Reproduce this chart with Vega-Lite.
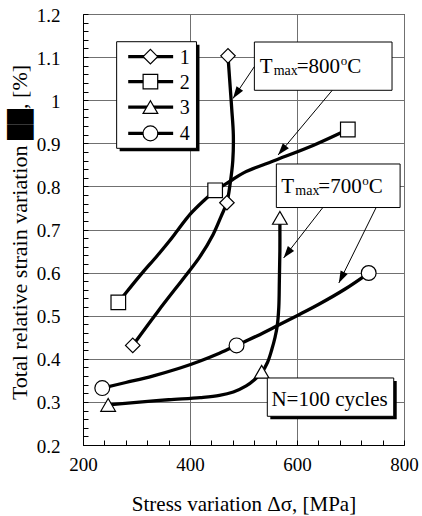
{
  "$schema": "https://vega.github.io/schema/vega-lite/v6.json",
  "width": 321,
  "height": 431,
  "autosize": {"type": "none"},
  "padding": {"left": 83, "top": 14, "right": 18, "bottom": 71},
  "background": "white",
  "config": {
    "font": "Liberation Serif",
    "view": {"stroke": "black", "strokeWidth": 1},
    "axis": {
      "domainColor": "black",
      "tickColor": "black",
      "tickWidth": 1,
      "labelColor": "black",
      "titleColor": "black",
      "gridColor": "#707070",
      "gridWidth": 1,
      "titleFontWeight": "normal",
      "labelFont": "Liberation Serif",
      "titleFont": "Liberation Serif",
      "labelFontSize": 19,
      "titleFontSize": 21,
      "labelOverlap": false,
      "labelFlush": false
    }
  },
  "datasets": {
    "curves": [
      {"s": "1", "i": 0, "x": 293, "y": 0.431},
      {"s": "1", "i": 1, "x": 340, "y": 0.51},
      {"s": "1", "i": 2, "x": 395, "y": 0.598},
      {"s": "1", "i": 3, "x": 418, "y": 0.636},
      {"s": "1", "i": 4, "x": 443, "y": 0.688},
      {"s": "1", "i": 5, "x": 458, "y": 0.73},
      {"s": "1", "i": 6, "x": 469, "y": 0.763},
      {"s": "1", "i": 7, "x": 475, "y": 0.806},
      {"s": "1", "i": 8, "x": 480, "y": 0.86},
      {"s": "1", "i": 9, "x": 481, "y": 0.92},
      {"s": "1", "i": 10, "x": 478, "y": 0.98},
      {"s": "1", "i": 11, "x": 474, "y": 1.05},
      {"s": "1", "i": 12, "x": 471, "y": 1.103},
      {"s": "2", "i": 0, "x": 266, "y": 0.531},
      {"s": "2", "i": 1, "x": 290, "y": 0.568},
      {"s": "2", "i": 2, "x": 312, "y": 0.601},
      {"s": "2", "i": 3, "x": 338, "y": 0.638},
      {"s": "2", "i": 4, "x": 360, "y": 0.671},
      {"s": "2", "i": 5, "x": 378, "y": 0.7},
      {"s": "2", "i": 6, "x": 400, "y": 0.735},
      {"s": "2", "i": 7, "x": 425, "y": 0.766},
      {"s": "2", "i": 8, "x": 447, "y": 0.79},
      {"s": "2", "i": 9, "x": 475, "y": 0.812},
      {"s": "2", "i": 10, "x": 501, "y": 0.832},
      {"s": "2", "i": 11, "x": 562, "y": 0.862},
      {"s": "2", "i": 12, "x": 630, "y": 0.895},
      {"s": "2", "i": 13, "x": 695, "y": 0.932},
      {"s": "3", "i": 0, "x": 247, "y": 0.293},
      {"s": "3", "i": 1, "x": 300, "y": 0.299},
      {"s": "3", "i": 2, "x": 360, "y": 0.305},
      {"s": "3", "i": 3, "x": 419, "y": 0.31},
      {"s": "3", "i": 4, "x": 455, "y": 0.315},
      {"s": "3", "i": 5, "x": 481, "y": 0.323},
      {"s": "3", "i": 6, "x": 505, "y": 0.337},
      {"s": "3", "i": 7, "x": 521, "y": 0.352},
      {"s": "3", "i": 8, "x": 534, "y": 0.368},
      {"s": "3", "i": 9, "x": 545, "y": 0.392},
      {"s": "3", "i": 10, "x": 553, "y": 0.422},
      {"s": "3", "i": 11, "x": 559, "y": 0.45},
      {"s": "3", "i": 12, "x": 563, "y": 0.476},
      {"s": "3", "i": 13, "x": 566, "y": 0.52},
      {"s": "3", "i": 14, "x": 567, "y": 0.58},
      {"s": "3", "i": 15, "x": 568, "y": 0.65},
      {"s": "3", "i": 16, "x": 568, "y": 0.727},
      {"s": "4", "i": 0, "x": 236, "y": 0.332},
      {"s": "4", "i": 1, "x": 280, "y": 0.345},
      {"s": "4", "i": 2, "x": 330, "y": 0.36},
      {"s": "4", "i": 3, "x": 380, "y": 0.378},
      {"s": "4", "i": 4, "x": 419, "y": 0.395},
      {"s": "4", "i": 5, "x": 455, "y": 0.413},
      {"s": "4", "i": 6, "x": 487, "y": 0.431},
      {"s": "4", "i": 7, "x": 525, "y": 0.453},
      {"s": "4", "i": 8, "x": 562, "y": 0.476},
      {"s": "4", "i": 9, "x": 600, "y": 0.5},
      {"s": "4", "i": 10, "x": 640, "y": 0.526},
      {"s": "4", "i": 11, "x": 690, "y": 0.562},
      {"s": "4", "i": 12, "x": 734, "y": 0.599}
    ],
    "pts": [
      {"s": "1", "x": 293, "y": 0.431},
      {"s": "1", "x": 469, "y": 0.762},
      {"s": "1", "x": 471, "y": 1.103},
      {"s": "2", "x": 266, "y": 0.531},
      {"s": "2", "x": 447, "y": 0.791},
      {"s": "2", "x": 695, "y": 0.932},
      {"s": "3", "x": 247, "y": 0.293},
      {"s": "3", "x": 534, "y": 0.37},
      {"s": "3", "x": 568, "y": 0.727},
      {"s": "4", "x": 236, "y": 0.332},
      {"s": "4", "x": 487, "y": 0.431},
      {"s": "4", "x": 734, "y": 0.599}
    ],
    "boxes": [
      {"b": "legend", "x": 262.9, "x2": 412.1, "y": 1.1357, "y2": 0.8884, "shadow": true},
      {"b": "n", "x": 544.5, "x2": 780.8, "y": 0.3555, "y2": 0.2666, "shadow": true},
      {"b": "t800", "x": 520.3, "x2": 777.6, "y": 1.135, "y2": 1.023, "shadow": false},
      {"b": "t700", "x": 561.4, "x2": 792.7, "y": 0.852, "y2": 0.751, "shadow": false}
    ],
    "legend": [
      {"s": "1", "y": 1.101},
      {"s": "2", "y": 1.043},
      {"s": "3", "y": 0.984},
      {"s": "4", "y": 0.923}
    ],
    "tmax": [
      {"eq": "=800", "x": 530.2, "y": 1.0637},
      {"eq": "=700", "x": 570.7, "y": 0.7854}
    ],
    "note": [
      {"t": "N=100 cycles", "x": 660.8, "y": 0.2897}
    ],
    "arrows": [
      {"a": "A", "x": 520.3, "y": 1.078, "x2": 480.4, "y2": 1.004},
      {"a": "B", "x": 665.9, "y": 1.023, "x2": 564.7, "y2": 0.873},
      {"a": "C", "x": 648.3, "y": 0.751, "x2": 575, "y2": 0.634},
      {"a": "D", "x": 747.9, "y": 0.751, "x2": 678.2, "y2": 0.576}
    ]
  },
  "layer": [
    {
      "data": {"name": "curves"},
      "mark": {"type": "line", "interpolate": "catmull-rom", "strokeWidth": 3.3, "color": "black"},
      "encoding": {
        "x": {
          "field": "x", "type": "quantitative",
          "scale": {"domain": [200, 800], "nice": false, "zero": false},
          "axis": {
            "values": [200, 240, 280, 320, 360, 400, 440, 480, 520, 560, 600, 640, 680, 720, 760, 800],
            "tickCount": 100,
            "labelExpr": "datum.value % 200 === 0 ? datum.label : ''",
            "gridOpacity": {"condition": {"test": "datum.value % 200 === 0", "value": 1}, "value": 0},
            "grid": true,
            "labelOverlap": false,
            "labelFlush": false,
            "labelFont": "Liberation Serif",
            "titleFont": "Liberation Serif",
            "tickSize": -5,
            "labelPadding": 15,
            "title": "Stress variation Δσ, [MPa]",
            "titleFontSize": 21,
            "titleY": 65,
            "titleBaseline": "alphabetic"
          }
        },
        "y": {
          "field": "y", "type": "quantitative",
          "scale": {"domain": [0.2, 1.2], "nice": false, "zero": false},
          "axis": {
            "values": [0.2, 0.22, 0.24, 0.26, 0.28, 0.3, 0.32, 0.34, 0.36, 0.38, 0.4, 0.42, 0.44, 0.46, 0.48, 0.5, 0.52, 0.54, 0.56, 0.58, 0.6, 0.62, 0.64, 0.66, 0.68, 0.7, 0.72, 0.74, 0.76, 0.78, 0.8, 0.82, 0.84, 0.86, 0.88, 0.9, 0.92, 0.94, 0.96, 0.98, 1, 1.02, 1.04, 1.06, 1.08, 1.1, 1.12, 1.14, 1.16, 1.18, 1.2],
            "tickCount": 100,
            "labelExpr": "abs(datum.value * 10 - round(datum.value * 10)) < 0.001 ? format(datum.value, '~g') : ''",
            "gridOpacity": {"condition": {"test": "abs(datum.value * 10 - round(datum.value * 10)) < 0.001", "value": 1}, "value": 0},
            "grid": true,
            "labelOverlap": false,
            "labelFont": "Liberation Serif",
            "titleFont": "Liberation Serif",
            "tickSize": -5,
            "labelPadding": 28,
            "labelOffset": 1,
            "title": "Total relative strain variation ██, [%]",
            "titleFontSize": 22,
            "titleX": -57,
            "titleY": 218,
            "titleAngle": -90,
            "titleAlign": "center",
            "titleBaseline": "alphabetic"
          }
        },
        "detail": {"field": "s"},
        "order": {"field": "i", "type": "quantitative"}
      }
    },
    {
      "data": {"name": "pts"},
      "mark": {"type": "point", "filled": true, "fill": "white", "stroke": "black", "strokeWidth": 1.2, "opacity": 1},
      "encoding": {
        "x": {"field": "x", "type": "quantitative"},
        "y": {"field": "y", "type": "quantitative"},
        "shape": {"field": "s", "type": "nominal", "scale": {"domain": ["1", "2", "3", "4"], "range": ["diamond", "square", "triangle-up", "circle"]}, "legend": null},
        "size": {"field": "s", "type": "ordinal", "scale": {"domain": ["1", "2", "3", "4"], "range": [210, 220, 270, 215]}, "legend": null}
      }
    },
    {
      "data": {"name": "boxes"},
      "transform": [{"filter": "datum.shadow"}],
      "mark": {"type": "rect", "fill": "black", "xOffset": 3, "x2Offset": 3, "yOffset": 3, "y2Offset": 3},
      "encoding": {
        "x": {"field": "x", "type": "quantitative"},
        "x2": {"field": "x2"},
        "y": {"field": "y", "type": "quantitative"},
        "y2": {"field": "y2"}
      }
    },
    {
      "data": {"name": "boxes"},
      "mark": {"type": "rect", "fill": "white", "stroke": "black", "strokeWidth": 1},
      "encoding": {
        "x": {"field": "x", "type": "quantitative"},
        "x2": {"field": "x2"},
        "y": {"field": "y", "type": "quantitative"},
        "y2": {"field": "y2"}
      }
    },
    {
      "data": {"name": "legend"},
      "mark": {"type": "rule", "strokeWidth": 3.3, "color": "black"},
      "encoding": {
        "x": {"datum": 284.5, "type": "quantitative"},
        "x2": {"datum": 368.5},
        "y": {"field": "y", "type": "quantitative"}
      }
    },
    {
      "data": {"name": "legend"},
      "mark": {"type": "point", "filled": true, "fill": "white", "stroke": "black", "strokeWidth": 1.2, "opacity": 1},
      "encoding": {
        "x": {"datum": 326, "type": "quantitative"},
        "y": {"field": "y", "type": "quantitative"},
        "shape": {"field": "s", "type": "nominal", "legend": null},
        "size": {"field": "s", "type": "ordinal", "legend": null}
      }
    },
    {
      "data": {"name": "legend"},
      "mark": {"type": "text", "fontSize": 20, "align": "left", "baseline": "middle", "dy": 1, "color": "black"},
      "encoding": {
        "x": {"datum": 381, "type": "quantitative"},
        "y": {"field": "y", "type": "quantitative"},
        "text": {"field": "s"}
      }
    },
    {
      "data": {"name": "note"},
      "mark": {"type": "text", "fontSize": 21, "align": "center", "baseline": "alphabetic", "color": "black"},
      "encoding": {
        "x": {"field": "x", "type": "quantitative"},
        "y": {"field": "y", "type": "quantitative"},
        "text": {"field": "t"}
      }
    },
    {
      "data": {"name": "tmax"},
      "mark": {"type": "text", "fontSize": 21, "align": "left", "baseline": "alphabetic", "color": "black"},
      "encoding": {
        "x": {"field": "x", "type": "quantitative"},
        "y": {"field": "y", "type": "quantitative"},
        "text": {"value": "T"}
      }
    },
    {
      "data": {"name": "tmax"},
      "mark": {"type": "text", "fontSize": 14, "align": "left", "baseline": "alphabetic", "dx": 14, "dy": 2, "color": "black"},
      "encoding": {
        "x": {"field": "x", "type": "quantitative"},
        "y": {"field": "y", "type": "quantitative"},
        "text": {"value": "max"}
      }
    },
    {
      "data": {"name": "tmax"},
      "mark": {"type": "text", "fontSize": 21, "align": "left", "baseline": "alphabetic", "dx": 37, "color": "black"},
      "encoding": {
        "x": {"field": "x", "type": "quantitative"},
        "y": {"field": "y", "type": "quantitative"},
        "text": {"field": "eq"}
      }
    },
    {
      "data": {"name": "tmax"},
      "mark": {"type": "text", "fontSize": 13, "align": "left", "baseline": "alphabetic", "dx": 81, "dy": -8, "color": "black"},
      "encoding": {
        "x": {"field": "x", "type": "quantitative"},
        "y": {"field": "y", "type": "quantitative"},
        "text": {"value": "o"}
      }
    },
    {
      "data": {"name": "tmax"},
      "mark": {"type": "text", "fontSize": 21, "align": "left", "baseline": "alphabetic", "dx": 87.5, "color": "black"},
      "encoding": {
        "x": {"field": "x", "type": "quantitative"},
        "y": {"field": "y", "type": "quantitative"},
        "text": {"value": "C"}
      }
    },
    {
      "data": {"name": "arrows"},
      "mark": {"type": "rule", "strokeWidth": 1, "color": "black"},
      "encoding": {
        "x": {"field": "x", "type": "quantitative"},
        "x2": {"field": "x2"},
        "y": {"field": "y", "type": "quantitative"},
        "y2": {"field": "y2"}
      }
    },
    {
      "data": {"name": "arrows"},
      "transform": [{"filter": "datum.a === 'A'"}],
      "mark": {"type": "point", "shape": "M0,0L-0.33,1L0.33,1Z", "size": 576, "filled": true, "color": "black", "opacity": 1, "angle": 214.5},
      "encoding": {
        "x": {"field": "x2", "type": "quantitative"},
        "y": {"field": "y2", "type": "quantitative"}
      }
    },
    {
      "data": {"name": "arrows"},
      "transform": [{"filter": "datum.a === 'B'"}],
      "mark": {"type": "point", "shape": "M0,0L-0.33,1L0.33,1Z", "size": 576, "filled": true, "color": "black", "opacity": 1, "angle": 220},
      "encoding": {
        "x": {"field": "x2", "type": "quantitative"},
        "y": {"field": "y2", "type": "quantitative"}
      }
    },
    {
      "data": {"name": "arrows"},
      "transform": [{"filter": "datum.a === 'C'"}],
      "mark": {"type": "point", "shape": "M0,0L-0.33,1L0.33,1Z", "size": 576, "filled": true, "color": "black", "opacity": 1, "angle": 217.8},
      "encoding": {
        "x": {"field": "x2", "type": "quantitative"},
        "y": {"field": "y2", "type": "quantitative"}
      }
    },
    {
      "data": {"name": "arrows"},
      "transform": [{"filter": "datum.a === 'D'"}],
      "mark": {"type": "point", "shape": "M0,0L-0.33,1L0.33,1Z", "size": 576, "filled": true, "color": "black", "opacity": 1, "angle": 206.3},
      "encoding": {
        "x": {"field": "x2", "type": "quantitative"},
        "y": {"field": "y2", "type": "quantitative"}
      }
    }
  ]
}
